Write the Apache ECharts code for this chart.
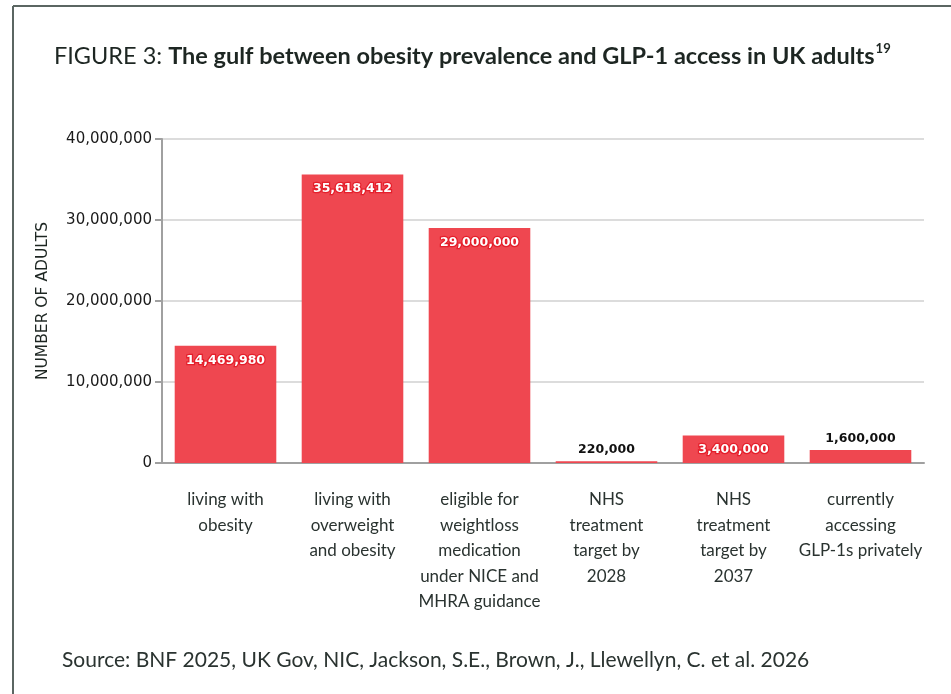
<!DOCTYPE html>
<html>
<head>
<meta charset="utf-8">
<script src="https://cdn.jsdelivr.net/npm/echarts@6/dist/echarts.min.js"></script>
<style>
  html, body { margin: 0; padding: 0; background: #fff; }
  #chart { width: 951px; height: 694px; }
</style>
</head>
<body>
<div id="chart"></div>
<script>
// Categories (x axis), with manual line breaks
const categories = [
  'living with\nobesity',
  'living with\noverweight\nand obesity',
  'eligible for\nweightloss\nmedication\nunder NICE and\nMHRA guidance',
  'NHS\ntreatment\ntarget by\n2028',
  'NHS\ntreatment\ntarget by\n2037',
  'currently\naccessing\nGLP-1s privately'
];
// Number of adults per category
const adults = [14469980, 35618412, 29000000, 220000, 3400000, 1600000];
// Bars too short to hold their label get it above instead
const labelAbove = [false, false, false, true, false, true];
// Y axis ticks
const yMin = 0;
const yMax = 40000000;
const yStep = 10000000;

const fmt = v => v.toLocaleString('en-GB');
const RED = '#ef4750';
const INK = '#1d2622';

const seriesData = adults.map((v, i) => ({
  value: v,
  label: labelAbove[i]
    ? { position: 'top', distance: 5, color: '#111', textBorderWidth: 0 }
    : { position: 'insideTop', distance: 8, color: '#fff', textBorderColor: '#e41f2b', textBorderWidth: 2.5 }
}));

const chart = echarts.init(document.getElementById('chart'));
chart.setOption({
  animation: false,
  backgroundColor: '#fff',
  title: {
    left: 49,
    top: 37,
    text: '{a|FIGURE 3: }{b|The gulf between obesity prevalence and GLP-1 access in UK adults}{s|19}',
    textStyle: {
      rich: {
        a: { fontFamily: 'Lato', fontSize: 23.5, fontWeight: 'normal', color: INK, lineHeight: 28 },
        b: { fontFamily: 'Lato', fontSize: 23.5, fontWeight: 'bold', color: INK, lineHeight: 28 },
        s: { fontFamily: 'Lato', fontSize: 13, fontWeight: 'bold', color: INK, lineHeight: 28, verticalAlign: 'top', padding: [0, 0, 8, 1] }
      }
    }
  },
  graphic: [
    { type: 'line', shape: { x1: 13, y1: 6, x2: 951, y2: 6 }, style: { stroke: '#5b6662', lineWidth: 2 } },
    { type: 'line', shape: { x1: 13, y1: 6, x2: 13, y2: 694 }, style: { stroke: '#5b6662', lineWidth: 2 } },
    {
      type: 'text', left: 62, top: 650,
      style: { text: 'Source: BNF 2025, UK Gov, NIC, Jackson, S.E., Brown, J., Llewellyn, C. et al. 2026',
               font: '21px Lato', fill: '#2a3330' }
    }
  ],
  grid: { left: 162, right: 27, top: 139, bottom: 231, containLabel: false },
  xAxis: {
    type: 'category',
    data: categories,
    axisLine: { lineStyle: { color: '#a0a0a0', width: 2 } },
    axisTick: { alignWithLabel: true, length: 8, lineStyle: { color: '#a0a0a0', width: 2 } },
    axisLabel: {
      interval: 0, margin: 24,
      fontFamily: 'Lato', fontSize: 17, lineHeight: 25.5, color: '#2a3330'
    }
  },
  yAxis: {
    type: 'value',
    min: yMin, max: yMax, interval: yStep,
    name: 'NUMBER OF ADULTS',
    nameLocation: 'middle',
    nameGap: 111,
    nameTextStyle: { fontFamily: 'DejaVu Sans', fontSize: 15.5, color: INK },
    axisLine: { show: true, lineStyle: { color: '#a0a0a0', width: 2 } },
    axisTick: { show: true, length: 7, lineStyle: { color: '#a0a0a0', width: 2 } },
    splitLine: { lineStyle: { color: '#dcdcdc', width: 2 } },
    axisLabel: {
      margin: 10,
      fontFamily: 'DejaVu Sans', fontSize: 15, color: '#1a1a1a',
      formatter: v => fmt(v)
    }
  },
  series: [{
    type: 'bar',
    data: seriesData,
    barCategoryGap: '20%',
    itemStyle: { color: RED },
    label: {
      show: true,
      fontFamily: 'DejaVu Sans', fontSize: 12.5, fontWeight: 'bold',
      formatter: p => fmt(p.value)
    }
  }]
});
</script>
</body>
</html>
